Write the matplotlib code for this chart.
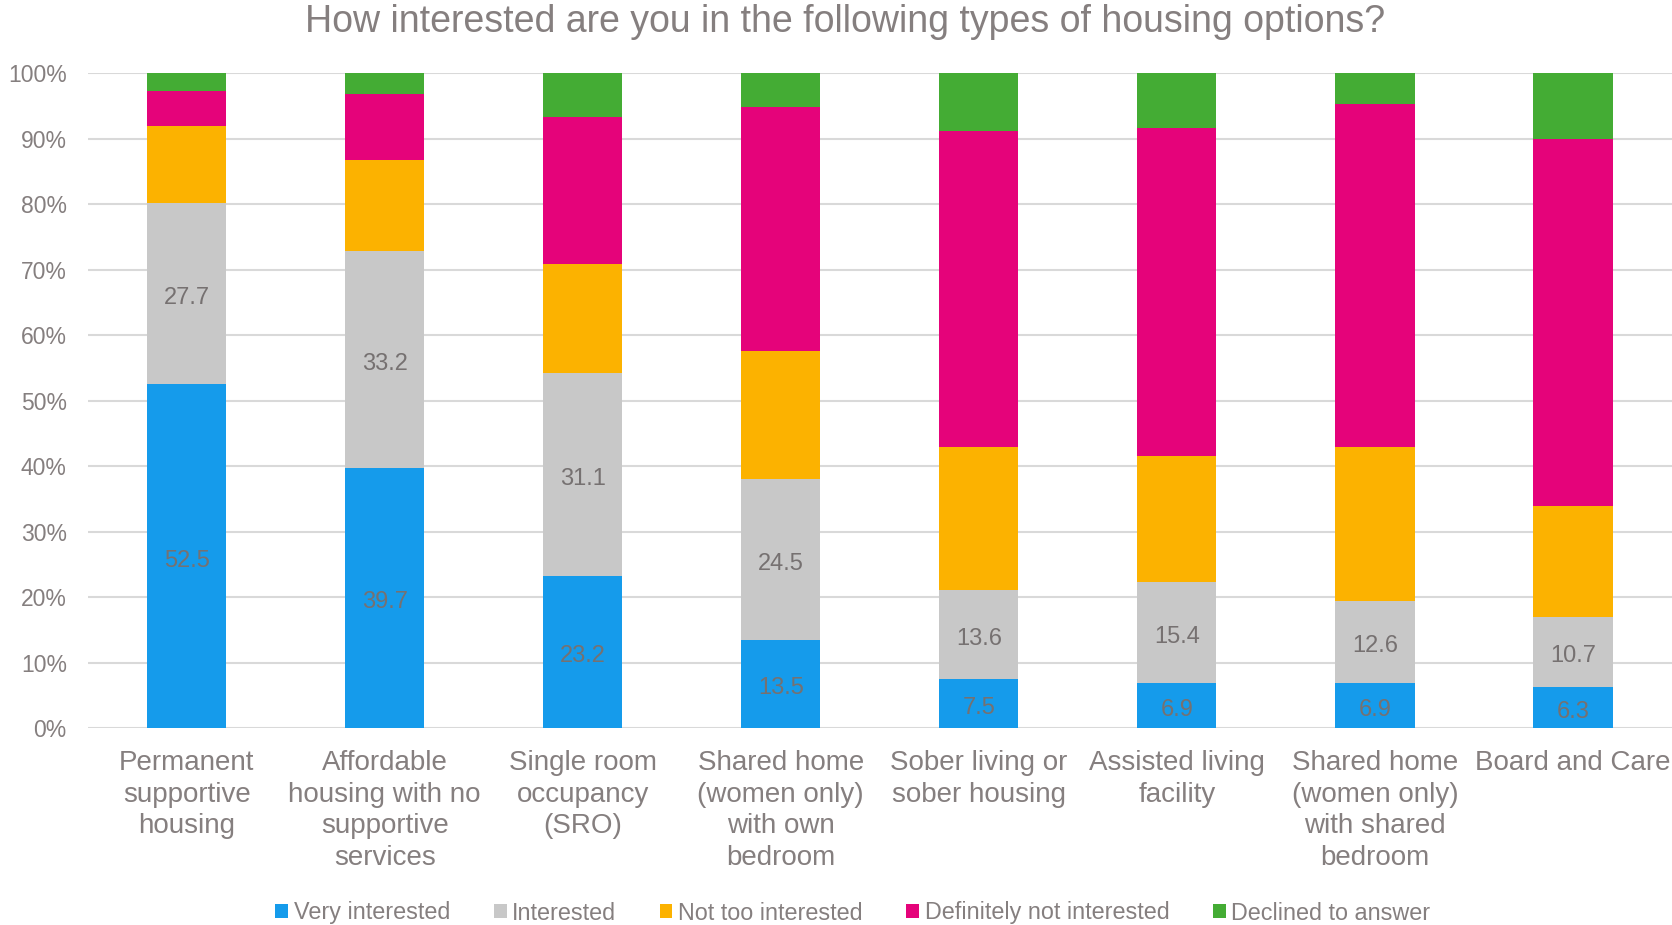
import matplotlib
matplotlib.use('Agg')
from matplotlib import pyplot as plt
import numpy as np

plt.rcParams['font.family'] = ['Liberation Sans', 'DejaVu Sans']

categories = ['Permanent\nsupportive\nhousing',
              'Affordable\nhousing with no\nsupportive\nservices',
              'Single room\noccupancy\n(SRO)',
              'Shared home\n(women only)\nwith own\nbedroom',
              'Sober living or\nsober housing',
              'Assisted living\nfacility',
              'Shared home\n(women only)\nwith shared\nbedroom',
              'Board and Care']

series_names = ['Very interested', 'Interested', 'Not too interested',
                'Definitely not interested', 'Declined to answer']

very_interested = [52.5, 39.7, 23.2, 13.5, 7.5, 6.9, 6.9, 6.3]
interested = [27.7, 33.2, 31.1, 24.5, 13.6, 15.4, 12.6, 10.7]
not_too_interested = [11.8, 13.9, 16.6, 19.6, 21.9, 19.3, 23.5, 16.9]
definitely_not = [5.3, 10.1, 22.5, 37.3, 48.2, 50.1, 52.3, 56.1]
declined = [2.7, 3.1, 6.6, 5.1, 8.8, 8.3, 4.7, 10.0]

colors = ['#159BEB', '#C8C8C8', '#FCB200', '#E5037A', '#44AC34']
text_grey = '#857f7f'
label_grey = '#767171'

fig = plt.figure(figsize=(16.72, 9.25), dpi=100)
ax = fig.add_axes([87.6 / 1672, 1 - 728.3 / 925, 1 - 87.6 / 1672, (728.3 - 73.3) / 925])

x = np.arange(len(categories))
bottom = np.zeros(len(categories))
all_series = [very_interested, interested, not_too_interested, definitely_not, declined]
for i, (name, vals) in enumerate(zip(series_names, all_series)):
  vals = np.array(vals)
  bars = ax.bar(x, vals, 0.4, bottom=bottom, color=colors[i], label=name, zorder=3)
  if i < 2:
    # only the two "interested" series carry value labels
    txts = ax.bar_label(bars, labels=['%.1f' % v for v in vals], label_type='center',
                        color=label_grey, fontsize=17)
    for t in txts:
      t.set_y(-3)
  bottom += vals

ax.set_xlim(-0.5, len(categories) - 0.5)
ax.set_ylim(0, 100)
ax.set_yticks(np.arange(0, 101, 10))
ax.set_yticklabels(['%d%%' % v for v in range(0, 101, 10)])
ax.yaxis.grid(True, color='#D9D9D9', linewidth=1.5, zorder=0)
ax.set_axisbelow(True)
for s in ax.spines.values():
  s.set_visible(False)
ax.tick_params(axis='y', length=0, pad=15, labelsize=16.5, labelcolor=text_grey)
ax.tick_params(axis='x', length=0, pad=15.5, labelsize=20, labelcolor=text_grey)
ax.set_xticks(x)
ax.set_xticklabels(categories, linespacing=1.29)

fig.text(845 / 1672, 1 - 32.3 / 925, 'How interested are you in the following types of housing options?',
         ha='center', va='baseline', fontsize=27, color=text_grey)

fig.legend(loc='center', bbox_to_anchor=(853 / 1672, 1 - 913 / 925), ncol=5, frameon=False,
           fontsize=16.8, labelcolor=text_grey, handlelength=0.55, handleheight=0.55,
           handletextpad=0.25, columnspacing=1.85, borderpad=0)

fig.savefig('out.png', dpi=100)
